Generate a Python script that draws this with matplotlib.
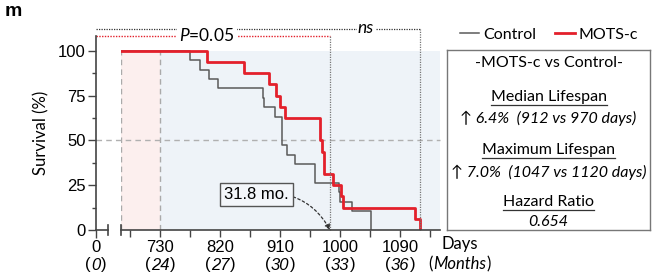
import matplotlib
matplotlib.use("Agg")
import matplotlib.pyplot as plt
from matplotlib.lines import Line2D
import numpy as np

plt.rcParams['font.family'] = ['Liberation Sans', 'DejaVu Sans']
plt.rcParams['mathtext.fontset'] = 'custom'
plt.rcParams['mathtext.rm'] = 'Lato'
plt.rcParams['mathtext.it'] = 'Lato:italic'

# survival data (days of death, deaths per day)
ctrl_days = [774, 789, 803, 816, 884, 886, 902, 913, 921, 933, 963, 998, 1000, 1018, 1047]
ctrl_deaths = [1, 1, 1, 1, 1, 1, 1, 3, 1, 1, 2, 1, 1, 1, 2]
mots_days = [800, 856, 893, 903, 910, 917, 970, 973, 976, 989, 1002, 1005, 1112, 1120]
mots_deaths = [1, 1, 1, 1, 1, 1, 2, 1, 2, 1, 1, 1, 1, 1]
n_ctrl = 19
n_mots = 16
start_day = 671
treat_day = 730
median_day = 985          # 31.8 mo.
max_day = 1120

x_major = [730, 820, 910, 1000, 1090]
x_months = ['24', '27', '30', '33', '36']
x_minor = [685, 775, 865, 955, 1045, 1135]

info_lines = ["-MOTS-c vs Control-", "Median Lifespan", "6.4%  (912 vs 970 days)",
              "Maximum Lifespan", "7.0%  (1047 vs 1120 days)", "Hazard Ratio", "0.654"]

c_ctrl = '#5a5a5a'
c_mots = '#e3202b'
side_font = ['Lato', 'DejaVu Sans']

W, H = 658, 275
fig = plt.figure(figsize=(W / 100, H / 100), dpi=100)
ytop = 108.4
ax_h = ytop * 1.793
ax1 = fig.add_axes([121 / W, 45 / H, 319 / W, ax_h / H])
ax0 = fig.add_axes([96 / W, 45 / H, 12 / W, ax_h / H])

def km(days, deaths, n):
    s = 100 * (1 - np.cumsum(deaths) / n)
    return [start_day] + list(days), [100] + list(s)

# backgrounds
ax1.axvspan(start_day, treat_day, ymin=0, ymax=100 / ytop, color='#fcefee', lw=0)
ax1.axvspan(treat_day, 1150, ymin=0, ymax=100 / ytop, color='#eef3f8', lw=0)
for xv in [start_day, treat_day]:
    ax1.plot([xv, xv], [0, 100], color='#aaaaaa', lw=1, ls=(0, (4, 3)))
ax1.axhline(50, xmin=-25 / 319, xmax=1, color='#b0b0b0', lw=1, ls=(0, (4, 3)), clip_on=False)

x, y = km(ctrl_days, ctrl_deaths, n_ctrl)
ax1.plot(x, y, drawstyle='steps-post', color=c_ctrl, lw=1.1, label='Control')
x, y = km(mots_days, mots_deaths, n_mots)
ax1.plot(x, y, drawstyle='steps-post', color=c_mots, lw=2, label='MOTS-c')

ax1.set_xlim(start_day, 1150)
for a in [ax0, ax1]:
    a.set_ylim(0, ytop)
    a.spines['top'].set_visible(False)
    a.spines['right'].set_visible(False)
    a.patch.set_alpha(0)
ax1.spines['left'].set_visible(False)
ax1.set_yticks([])
ax1.set_xticks(x_major)
ax1.set_xticklabels([str(d) for d in x_major], fontsize=12)
ax1.set_xticks(x_minor, minor=True)
ax1.tick_params(axis='x', which='both', direction='out', length=5, width=1, color='#444444', pad=2)
ax1.spines['bottom'].set_color('#444444')
ax1.spines['bottom'].set_linewidth(1.2)

# left stub of the broken axis
ax0.set_xlim(0, 18)
ax0.set_xticks([0])
ax0.set_xticklabels(['0'], fontsize=12)
ax0.set_yticks([0, 25, 50, 75, 100])
ax0.set_yticklabels(['0', '25', '50', '75', '100'], fontsize=12)
ax0.set_yticks([12.5, 37.5, 62.5, 87.5], minor=True)
ax0.tick_params(axis='both', which='major', direction='out', length=5.5, width=1, color='#444444', pad=2)
ax0.tick_params(axis='y', which='minor', direction='out', length=3, width=1, color='#444444')
ax0.spines['left'].set_bounds(0, ytop)
for s in ['left', 'bottom']:
    ax0.spines[s].set_color('#444444')
    ax0.spines[s].set_linewidth(1.2)
ax0.set_ylabel('Survival (%)', family=side_font, fontsize=12, labelpad=6)
# break marks
ax0.plot([1, 1], [-0.025, 0.025], transform=ax0.transAxes, color='#444444', lw=1.2, clip_on=False)
ax1.plot([0, 0], [-0.025, 0.025], transform=ax1.transAxes, color='#444444', lw=1.2, clip_on=False)

# month labels below day labels: italic number in upright brackets
month_texts = []
for a, xd, m in [(ax0, 0, '0')] + [(ax1, d, m) for d, m in zip(x_major, x_months)]:
    t = a.annotate(m, xy=(xd, 0), xycoords=('data', 'axes fraction'), xytext=(0, -35),
                   textcoords='offset pixels', ha='center', va='center', fontsize=12,
                   style='italic', annotation_clip=False)
    month_texts.append((a, xd, t))

# significance brackets
xl = start_day - 25 * 1.4975
ax1.plot([xl, median_day], [ytop, ytop], color='#e3202b', lw=1, ls=(0, (1, 1)), clip_on=False)
ax1.plot([median_day, median_day], [0, ytop], color='#777777', lw=0.9, ls=(0, (1, 1)), clip_on=False)
ax1.plot([xl, max_day], [112.3, 112.3], color='#333333', lw=0.9, ls=(0, (1, 1)), clip_on=False)
ax1.plot([max_day, max_day], [0, 112.3], color='#777777', lw=0.9, ls=(0, (1, 1)), clip_on=False)
ax1.text(800, ytop, '$\\mathit{P}$=0.05', ha='center', va='center', fontsize=12.5,
         family=side_font, bbox=dict(fc='white', ec='none', pad=1.5), clip_on=False)
ax1.text(1039, 112.8, 'ns', ha='center', va='center', fontsize=12.5, style='italic', family=side_font,
         bbox=dict(fc='white', ec='none', pad=1), clip_on=False)

ax1.annotate('31.8 mo.', xy=(median_day, 0), xytext=(874, 19.7), ha='center', va='center', fontsize=12,
             bbox=dict(boxstyle='square,pad=0.25', fc='#f3f6fa', ec='#555555', lw=1),
             arrowprops=dict(arrowstyle='-|>', color='#333333', lw=0.9, ls=(0, (2, 2)),
                             connectionstyle='arc3,rad=-0.35', shrinkA=0, shrinkB=0,
                             mutation_scale=8))

# legend
handles = [Line2D([], [], color=c_ctrl, lw=1.1), Line2D([], [], color=c_mots, lw=2)]
fig.legend(handles, ['Control', 'MOTS-c'], loc='center', bbox_to_anchor=(549 / W, 1 - 35 / H),
           ncol=2, frameon=False, handlelength=1.2, handletextpad=0.25, columnspacing=1.2,
           prop=dict(family=side_font, size=11.5))

# info panel
axb = fig.add_axes([447 / W, 45 / H, 203 / W, 180 / H])
axb.set_xticks([])
axb.set_yticks([])
for s in axb.spines.values():
    s.set_color('#777777')
    s.set_linewidth(1)
ys = [63, 97, 118, 150, 172, 202, 222]
texts = []
for i, (t, yp) in enumerate(zip(info_lines, ys)):
    yf = (230 - yp) / 180
    style = 'italic' if i in (2, 4, 6) else 'normal'
    if i in (2, 4):
        t = '\u2191 ' + t
    texts.append(axb.text(0.5, yf, t, ha='center', va='center', fontsize=11.5, style=style,
                          family=side_font, transform=axb.transAxes))

fig.text(460 / W, 1 - 244 / H, 'Days', ha='center', va='center', fontsize=12, family=side_font)
mt = fig.text(460 / W, 1 - 264 / H, 'Months', ha='center', va='center', fontsize=12,
              style='italic', family=side_font)
fig.text(5 / W, 1 - 12 / H, 'm', ha='left', va='center', fontsize=14, weight='bold')

fig.canvas.draw()
r = fig.canvas.get_renderer()
for i in (1, 3, 5):
    bb = texts[i].get_window_extent(r)
    y0 = bb.y0 - 1
    fig.add_artist(Line2D([bb.x0 / W, bb.x1 / W], [y0 / H, y0 / H], color='#333333', lw=0.9))

for a, xd, t in month_texts:
    hw = t.get_window_extent(r).width / 2
    for s, dx, ha in [('(', -hw - 0.5, 'right'), (')', hw + 0.5, 'left')]:
        a.annotate(s, xy=(xd, 0), xycoords=('data', 'axes fraction'), xytext=(dx, -35),
                   textcoords='offset pixels', ha=ha, va='center', fontsize=12,
                   annotation_clip=False)

bb = mt.get_window_extent(r)
yc = (bb.y0 + bb.y1) / 2 / H
fig.text((bb.x0 - 0.5) / W, yc, '(', ha='right', va='center', fontsize=12, family=side_font)
fig.text((bb.x1 + 0.5) / W, yc, ')', ha='left', va='center', fontsize=12, family=side_font)

fig.savefig('out.png', dpi=100)
